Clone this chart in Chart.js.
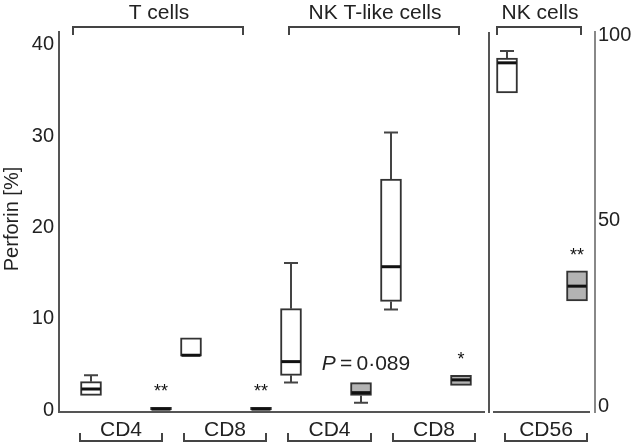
<!DOCTYPE html>
<html>
<head>
<meta charset="utf-8">
<script src="https://cdn.jsdelivr.net/npm/chart.js@4.4.1/dist/chart.umd.min.js"></script>
<style>
  html, body { margin: 0; padding: 0; background: #fff; }
  #wrap { width: 634px; height: 444px; }
</style>
</head>
<body>
<div id="wrap"><canvas id="perforin" width="634" height="444"></canvas></div>
<script>
// cell groups on top, subsets along the bottom
var groups = ["T cells", "NK T-like cells", "NK cells"];
var subsets = ["CD4", "CD8", "CD4", "CD8", "CD56"];

// open boxes, one per subset (the CD56 one is read on the right axis)
var openMin = [1.6, 5.9, 3.0, 11.0, 84.4];
var openQ1 = [1.6, 5.9, 3.8, 11.9, 84.4];
var openMed = [2.3, 6.0, 5.3, 15.7, 92.5];
var openQ3 = [3.1, 7.9, 11.1, 25.3, 93.8];
var openMax = [3.8, 7.9, 16.1, 30.4, 95.7];

// grey boxes
var greyMin = [0, 0, 0.8, 2.7, 28.3];
var greyQ1 = [0, 0, 1.6, 2.7, 28.3];
var greyMed = [0.1, 0.1, 1.9, 3.3, 32.3];
var greyQ3 = [0.3, 0.3, 3.0, 3.8, 36.4];
var greyMax = [0.3, 0.3, 3.0, 3.8, 36.4];
var greyStars = ["**", "**", "", "*", "**"];
var pText = "0·089";

var leftTicks = [0, 10, 20, 30, 40];
var rightTicks = [0, 50, 100];

// layout only
var FONT = '"Liberation Sans", Arial, Helvetica, sans-serif';
var subsetX = [0, 1, 2, 3, 4.16];
var greyOffset = 0.7;
var dividerX = 489;
var topBrackets = [[73, 243], [289, 459], [497, 581]];
var bottomBrackets = [[80, 162], [184, 266], [288, 371], [393, 475], [505, 587]];

function boxes(q1, q3, from, to, off) {
  var out = [];
  for (var i = from; i < to; i++) {
    out.push({ x: subsetX[i] + off, y: [q1[i], q3[i]], i: i });
  }
  return out;
}

function boxSet(label, data, axis, fill, stats) {
  return {
    label: label,
    data: data,
    yAxisID: axis,
    backgroundColor: fill,
    borderColor: "#333",
    borderWidth: 2,
    borderSkipped: false,
    barThickness: 21,
    grouped: false,
    stats: stats
  };
}

var openStats = { min: openMin, med: openMed, max: openMax, q1: openQ1, q3: openQ3, stars: null };
var greyStats = { min: greyMin, med: greyMed, max: greyMax, q1: greyQ1, q3: greyQ3, stars: greyStars };

var boxPlugin = {
  id: "boxParts",
  afterDatasetsDraw: function (chart) {
    var ctx = chart.ctx;
    var area = chart.chartArea;
    ctx.save();

    // bottom lines of the two panels and the divider
    ctx.strokeStyle = "#555";
    ctx.lineWidth = 2;
    ctx.beginPath();
    ctx.moveTo(area.left, area.bottom);
    ctx.lineTo(dividerX - 4, area.bottom);
    ctx.moveTo(dividerX + 4, area.bottom);
    ctx.lineTo(area.right - 5, area.bottom);
    ctx.moveTo(dividerX, area.top);
    ctx.lineTo(dividerX, area.bottom + 1);
    ctx.stroke();

    chart.data.datasets.forEach(function (ds, d) {
      var meta = chart.getDatasetMeta(d);
      var ys = chart.scales[ds.yAxisID];
      var st = ds.stats;
      meta.data.forEach(function (bar, j) {
        var i = ds.data[j].i;
        var cx = bar.x;
        var half = bar.width / 2;
        var yMin = ys.getPixelForValue(st.min[i]);
        var yQ1 = ys.getPixelForValue(st.q1[i]);
        var yQ3 = ys.getPixelForValue(st.q3[i]);
        var yMax = ys.getPixelForValue(st.max[i]);
        var yMed = ys.getPixelForValue(st.med[i]);

        ctx.strokeStyle = "#444";
        ctx.lineWidth = 2;
        ctx.beginPath();
        if (st.max[i] > st.q3[i]) {
          ctx.moveTo(cx, yQ3);
          ctx.lineTo(cx, yMax);
          ctx.moveTo(cx - 7, yMax);
          ctx.lineTo(cx + 7, yMax);
        }
        if (st.min[i] < st.q1[i]) {
          ctx.moveTo(cx, yQ1);
          ctx.lineTo(cx, yMin);
          ctx.moveTo(cx - 7, yMin);
          ctx.lineTo(cx + 7, yMin);
        }
        ctx.stroke();

        ctx.strokeStyle = "#111";
        ctx.lineWidth = 3;
        ctx.beginPath();
        ctx.moveTo(cx - half + 1, yMed);
        ctx.lineTo(cx + half - 1, yMed);
        ctx.stroke();

        if (st.stars && st.stars[i]) {
          ctx.fillStyle = "#111";
          ctx.font = "18px " + FONT;
          ctx.textAlign = "center";
          ctx.textBaseline = "alphabetic";
          ctx.fillText(st.stars[i], cx, yMax - 10);
        }

        // P value over the grey NK T-like CD4 box
        if (st === greyStats && i === 2) {
          ctx.fillStyle = "#222";
          ctx.textBaseline = "alphabetic";
          ctx.textAlign = "left";
          ctx.font = "italic 21px " + FONT;
          var pw = ctx.measureText("P").width;
          ctx.font = "21px " + FONT;
          var rest = "\u2009=\u2009" + pText;
          var rw = ctx.measureText(rest).width;
          var x0 = cx + 5 - (pw + rw) / 2;
          var by = yQ3 - 13;
          ctx.font = "italic 21px " + FONT;
          ctx.fillText("P", x0, by);
          ctx.font = "21px " + FONT;
          ctx.fillText(rest, x0 + pw, by);
        }
      });
    });

    // y axis title
    ctx.fillStyle = "#222";
    ctx.font = "20px " + FONT;
    ctx.textAlign = "center";
    ctx.textBaseline = "middle";
    ctx.save();
    ctx.translate(12, 219);
    ctx.rotate(-Math.PI / 2);
    ctx.fillText("Perforin [%]", 0, 0);
    ctx.restore();

    // group brackets on top
    ctx.strokeStyle = "#444";
    ctx.lineWidth = 2;
    ctx.font = "21px " + FONT;
    ctx.textBaseline = "alphabetic";
    topBrackets.forEach(function (b, k) {
      ctx.beginPath();
      ctx.moveTo(b[0], 35);
      ctx.lineTo(b[0], 27);
      ctx.lineTo(b[1], 27);
      ctx.lineTo(b[1], 35);
      ctx.stroke();
      ctx.fillText(groups[k], (b[0] + b[1]) / 2 + 1, 19);
    });

    // subset brackets below
    bottomBrackets.forEach(function (b, k) {
      ctx.beginPath();
      ctx.moveTo(b[0], 433);
      ctx.lineTo(b[0], 441);
      ctx.lineTo(b[1], 441);
      ctx.lineTo(b[1], 433);
      ctx.stroke();
      ctx.fillText(subsets[k], (b[0] + b[1]) / 2, 436);
    });

    ctx.restore();
  }
};

var ctx = document.getElementById("perforin").getContext("2d");
var chart = new Chart(ctx, {
  type: "bar",
  data: {
    datasets: [
      boxSet("open", boxes(openQ1, openQ3, 0, 4, 0), "y", "#fff", openStats),
      boxSet("grey", boxes(greyQ1, greyQ3, 0, 4, greyOffset), "y", "#b3b3b3", greyStats),
      boxSet("open NK", boxes(openQ1, openQ3, 4, 5, 0), "y2", "#fff", openStats),
      boxSet("grey NK", boxes(greyQ1, greyQ3, 4, 5, greyOffset), "y2", "#b3b3b3", greyStats)
    ]
  },
  options: {
    responsive: false,
    animation: false,
    layout: { padding: { top: 32, bottom: 32, left: 0, right: 0 } },
    plugins: { legend: { display: false }, tooltip: { enabled: false } },
    scales: {
      x: { type: "linear", min: -0.32, max: 5.04, offset: false, display: false },
      y: {
        position: "left",
        min: -0.22,
        max: 41.42,
        afterBuildTicks: function (s) { s.ticks = leftTicks.map(function (v) { return { value: v }; }); },
        afterFit: function (s) { s.width = 59; },
        grid: { display: false, drawTicks: false },
        border: { color: "#555", width: 2 },
        ticks: { color: "#222", padding: 5, font: { family: FONT, size: 20 } }
      },
      y2: {
        position: "right",
        min: -1.62,
        max: 100.81,
        afterBuildTicks: function (s) { s.ticks = rightTicks.map(function (v) { return { value: v }; }); },
        afterFit: function (s) { s.width = 39; },
        grid: { display: false, drawTicks: false },
        border: { color: "#888", width: 2 },
        ticks: { color: "#222", padding: 3, font: { family: FONT, size: 20 } }
      }
    }
  },
  plugins: [boxPlugin]
});
</script>
</body>
</html>
